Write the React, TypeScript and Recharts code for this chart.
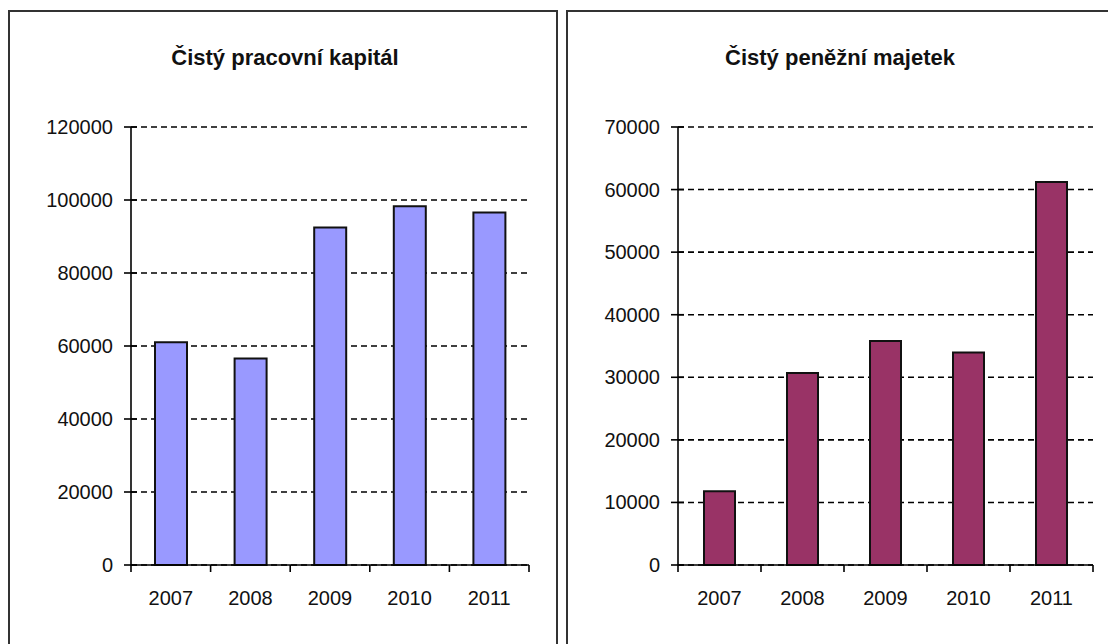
import React from 'react';
import { BarChart, Bar, XAxis, YAxis, CartesianGrid } from 'recharts';

// Years shown on both charts
const years = ['2007', '2008', '2009', '2010', '2011'];

// Čistý pracovní kapitál (net working capital)
const workingCapital = [61000, 56600, 92500, 98300, 96600];
// Čistý peněžní majetek (net monetary assets)
const netMonetaryAssets = [11800, 30700, 35800, 33950, 61200];

// Value axis ticks
const leftTicks = [0, 20000, 40000, 60000, 80000, 100000, 120000];
const rightTicks = [0, 10000, 20000, 30000, 40000, 50000, 60000, 70000];

const leftTitle = 'Čistý pracovní kapitál';
const rightTitle = 'Čistý peněžní majetek';

const FONT = '"Liberation Sans", Arial, "DejaVu Sans", sans-serif';
const INK = '#111';

const leftData = years.map((year, i) => ({ year, value: workingCapital[i] }));
const rightData = years.map((year, i) => ({ year, value: netMonetaryAssets[i] }));

type PanelProps = {
  data: { year: string; value: number }[];
  ticks: number[];
  fill: string;
  left: number;
  width: number;
  plotLeft: number;
  plotRight: number;
  barSize: number;
};

const HEIGHT = 644;
const PLOT_TOP = 127;
const PLOT_BOTTOM = 565;
const Y_AXIS_W = 60;
const X_AXIS_H = 40;

function YTick(props: any) {
  const { x, y, payload } = props;
  return (
    <g>
      <line x1={x - 7} x2={x + 6} y1={y} y2={y} stroke="#000" strokeWidth={1.6} />
      <text x={x - 18} y={y + 7} textAnchor="end" fontSize={20} fontFamily={FONT} fill={INK}>
        {payload.value}
      </text>
    </g>
  );
}

function makeXTick(band: number, count: number) {
  return (props: any) => {
    const { x, y, payload, index } = props;
    const l = x - band / 2;
    const r = x + band / 2;
    return (
      <g>
        <line x1={l} x2={l} y1={y} y2={y + 7} stroke="#000" strokeWidth={1.6} />
        {index === count - 1 && (
          <line x1={r} x2={r} y1={y} y2={y + 7} stroke="#000" strokeWidth={1.6} />
        )}
        <text x={x} y={y + 40} textAnchor="middle" fontSize={20} fontFamily={FONT} fill={INK}>
          {payload.value}
        </text>
      </g>
    );
  };
}

function Panel({ data, ticks, fill, left, width, plotLeft, plotRight, barSize }: PanelProps) {
  const margin = {
    top: PLOT_TOP,
    bottom: HEIGHT - PLOT_BOTTOM - X_AXIS_H,
    left: plotLeft - left - Y_AXIS_W,
    right: left + width - plotRight,
  };
  const band = (plotRight - plotLeft) / data.length;
  return (
    <div style={{ position: 'absolute', left, top: 0 }}>
      <BarChart width={width} height={HEIGHT} data={data} margin={margin} barSize={barSize}>
        <CartesianGrid
          vertical={false}
          stroke="#000"
          strokeWidth={1.6}
          strokeDasharray="6 4"
        />
        <XAxis
          dataKey="year"
          height={X_AXIS_H}
          interval={0}
          tickSize={0}
          tickMargin={0}
          axisLine={{ stroke: '#000', strokeWidth: 1.6 }}
          tickLine={false}
          tick={makeXTick(band, data.length)}
        />
        <YAxis
          width={Y_AXIS_W}
          domain={[0, ticks[ticks.length - 1]]}
          ticks={ticks}
          interval={0}
          tickSize={0}
          tickMargin={0}
          axisLine={{ stroke: '#000', strokeWidth: 1.6 }}
          tickLine={false}
          tick={(p: any) => <YTick {...p} />}
        />
        <Bar dataKey="value" fill={fill} stroke="#111" strokeWidth={2} isAnimationActive={false} />
      </BarChart>
    </div>
  );
}

export default function App() {
  return (
    <div
      style={{
        position: 'absolute',
        left: 0,
        top: 0,
        width: 1108,
        height: HEIGHT,
        overflow: 'hidden',
        background: '#fff',
      }}
    >
      <svg width={1108} height={HEIGHT} style={{ position: 'absolute', left: 0, top: 0 }}>
        <rect x={9} y={11} width={548} height={700} fill="none" stroke="#333" strokeWidth={2} />
        <rect x={567} y={11} width={560} height={700} fill="none" stroke="#333" strokeWidth={2} />
        <text x={285} y={65} textAnchor="middle" fontSize={22} fontWeight="bold" fontFamily={FONT} fill={INK}>
          {leftTitle}
        </text>
        <text x={840} y={65} textAnchor="middle" fontSize={22} fontWeight="bold" fontFamily={FONT} fill={INK}>
          {rightTitle}
        </text>
      </svg>
      <Panel
        data={leftData}
        ticks={leftTicks}
        fill="#9999FF"
        left={0}
        width={556}
        plotLeft={131}
        plotRight={529}
        barSize={32}
      />
      <Panel
        data={rightData}
        ticks={rightTicks}
        fill="#993366"
        left={560}
        width={548}
        plotLeft={678}
        plotRight={1093}
        barSize={31}
      />
    </div>
  );
}
